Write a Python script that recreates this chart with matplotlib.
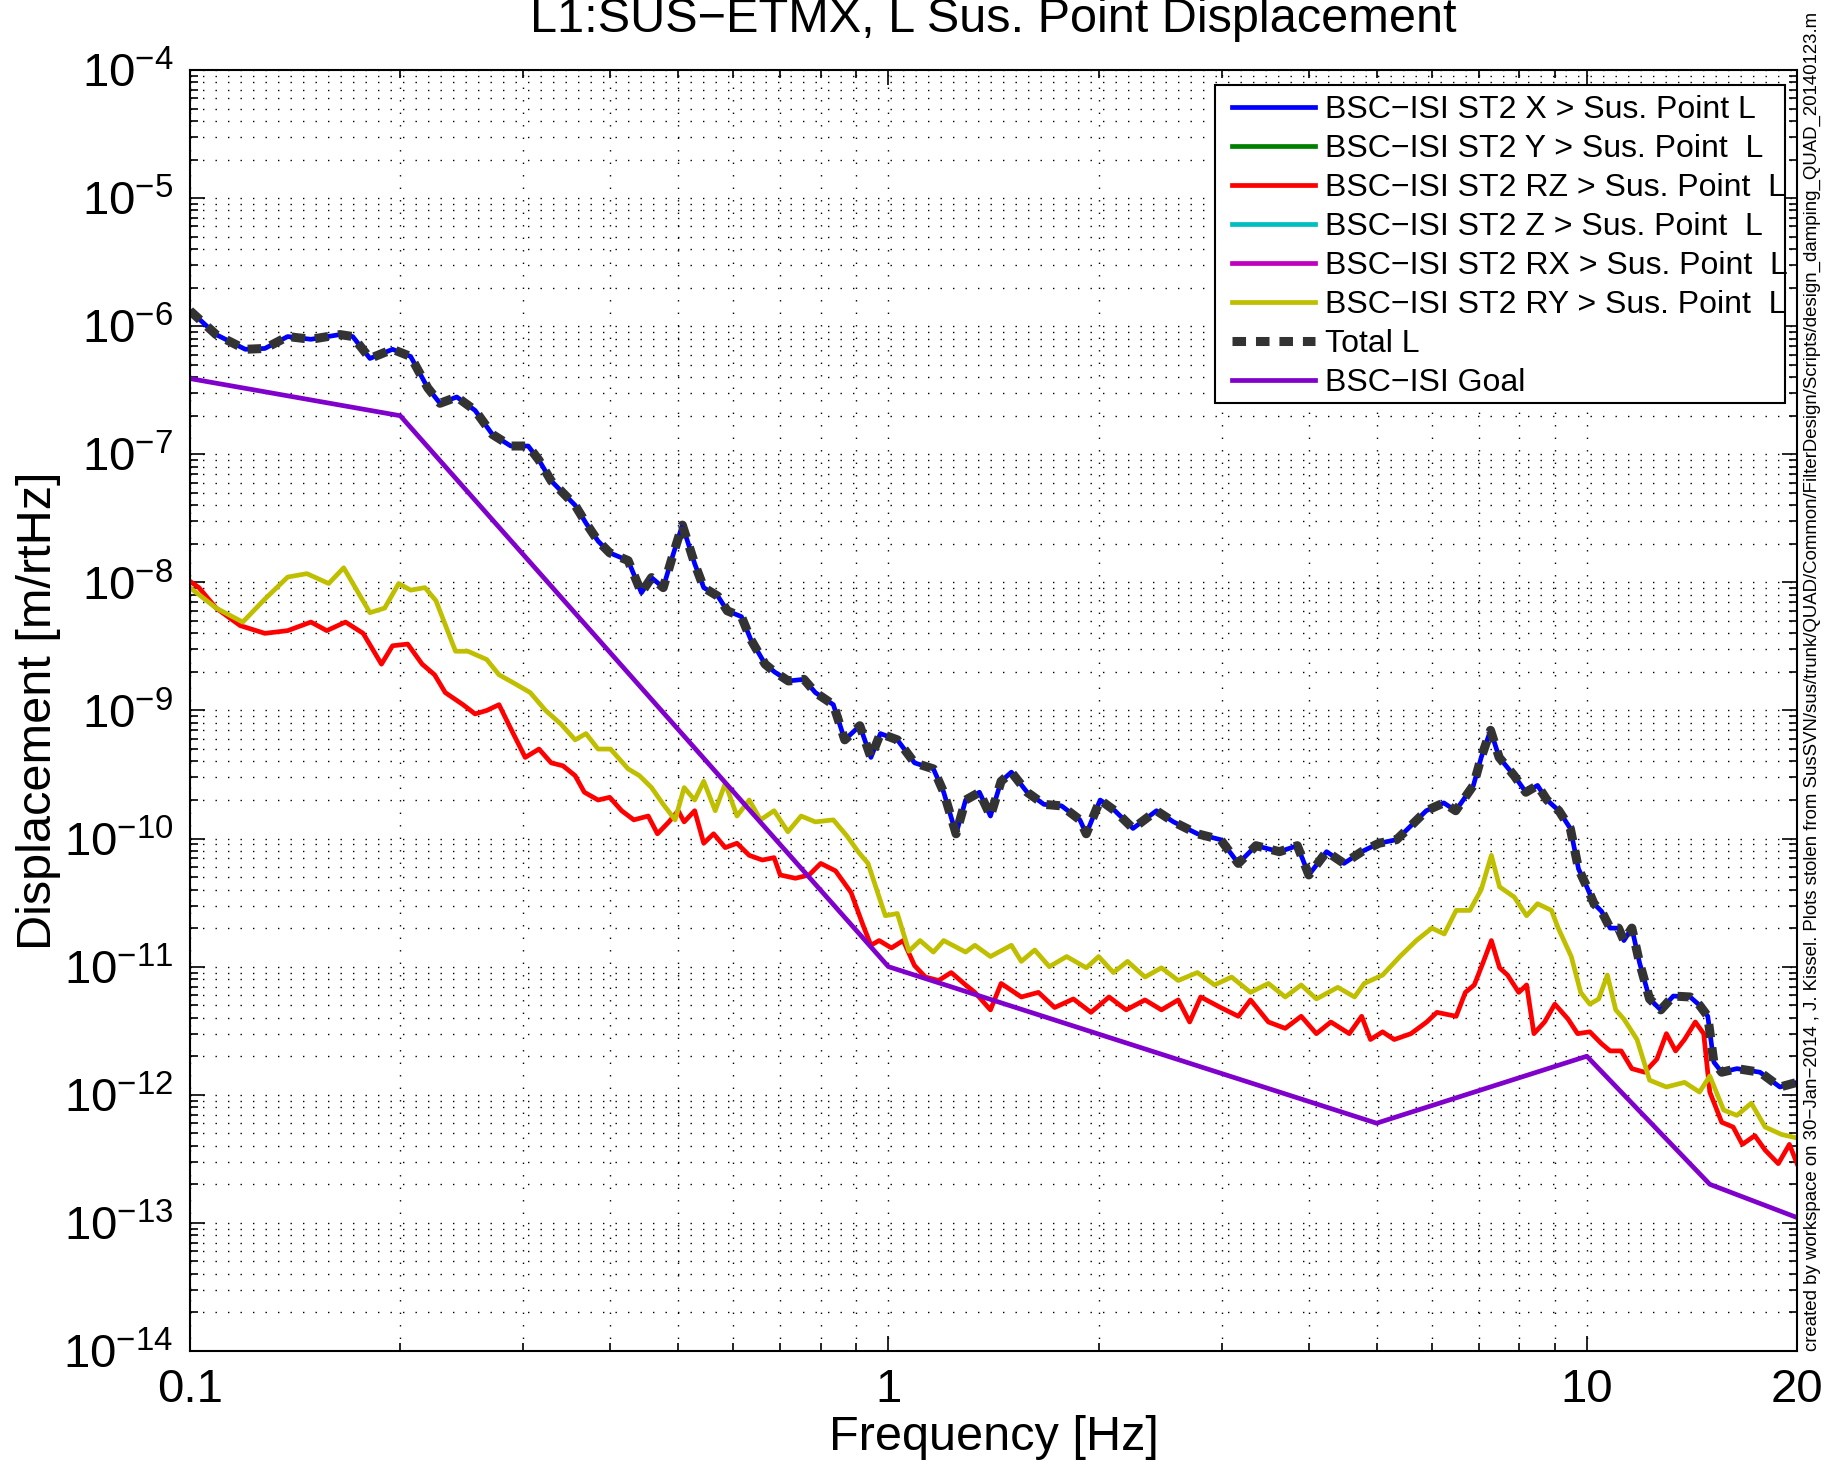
import numpy as np
import matplotlib.pyplot as plt
from matplotlib.patches import Rectangle
from matplotlib.ticker import LogLocator, NullFormatter

plt.rcParams['font.family'] = ['Liberation Sans', 'DejaVu Sans']
plt.rcParams['mathtext.fontset'] = 'custom'
plt.rcParams['mathtext.rm'] = 'Liberation Sans'

# ST2 X -> sus point L (Total L sits on top of it)
x_freq = [0.1, 0.109, 0.120, 0.128, 0.138, 0.149, 0.164, 0.171, 0.181, 0.195,
          0.207, 0.219, 0.228, 0.241, 0.256, 0.271, 0.288, 0.305, 0.316, 0.329,
          0.356, 0.369, 0.384, 0.399, 0.424, 0.443, 0.458, 0.476, 0.490, 0.507,
          0.528, 0.544, 0.570, 0.588, 0.616, 0.635, 0.666, 0.687, 0.719, 0.757,
          0.786, 0.834, 0.866, 0.910, 0.944, 0.974, 1.03, 1.09, 1.16, 1.20,
          1.25, 1.29, 1.35, 1.40, 1.45, 1.50, 1.58, 1.67, 1.77, 1.88,
          1.92, 2.01, 2.11, 2.24, 2.42, 2.56, 2.77, 2.99, 3.17, 3.36,
          3.63, 3.85, 4.00, 4.24, 4.49, 4.76, 5.04, 5.34, 5.55, 5.89,
          6.24, 6.49, 6.88, 7.06, 7.28, 7.49, 7.87, 8.18, 8.50, 8.77,
          9.12, 9.47, 9.73, 10.0, 10.24, 10.5, 10.8, 11.1, 11.3, 11.6,
          11.9, 12.3, 12.76, 13.3, 14.06, 14.5, 14.9, 15.2, 15.6, 16.4,
          17.7, 18.9, 20.0]
x_disp = [1.32e-6, 8.6e-7, 6.6e-7, 6.7e-7, 8.3e-7, 7.9e-7, 8.6e-7, 8.3e-7, 5.6e-7, 6.6e-7,
          5.8e-7, 3.3e-7, 2.5e-7, 2.8e-7, 2.2e-7, 1.43e-7, 1.16e-7, 1.16e-7, 9.0e-8, 6.2e-8,
          4.0e-8, 2.9e-8, 2.1e-8, 1.7e-8, 1.48e-8, 8.3e-9, 1.09e-8, 9.1e-9, 1.55e-8, 2.8e-8,
          1.4e-8, 9.1e-9, 7.8e-9, 6.0e-9, 5.4e-9, 3.6e-9, 2.3e-9, 2.0e-9, 1.7e-9, 1.75e-9,
          1.38e-9, 1.11e-9, 5.9e-10, 7.6e-10, 4.3e-10, 6.6e-10, 5.9e-10, 3.9e-10, 3.5e-10, 2.3e-10,
          1.09e-10, 2.0e-10, 2.3e-10, 1.5e-10, 2.8e-10, 3.3e-10, 2.3e-10, 1.85e-10, 1.8e-10, 1.4e-10,
          1.09e-10, 2.0e-10, 1.65e-10, 1.2e-10, 1.65e-10, 1.35e-10, 1.09e-10, 9.8e-11, 6.4e-11, 8.8e-11,
          7.9e-11, 8.8e-11, 5.2e-11, 7.9e-11, 6.4e-11, 7.9e-11, 9.2e-11, 9.8e-11, 1.2e-10, 1.65e-10,
          1.9e-10, 1.65e-10, 2.6e-10, 4.3e-10, 7.0e-10, 4.3e-10, 3.1e-10, 2.3e-10, 2.6e-10, 2.0e-10,
          1.65e-10, 1.2e-10, 5.8e-11, 4.2e-11, 3.1e-11, 2.7e-11, 2.0e-11, 2.0e-11, 1.6e-11, 2.0e-11,
          1.07e-11, 5.6e-12, 4.6e-12, 5.9e-12, 5.8e-12, 5.0e-12, 4.1e-12, 1.8e-12, 1.5e-12, 1.6e-12,
          1.5e-12, 1.15e-12, 1.25e-12]

# ST2 Y, Z, RX contributions do not show up in the plotted range
y_freq, y_disp = [], []
z_freq, z_disp = [], []
rx_freq, rx_disp = [], []

# ST2 RZ -> sus point L
rz_freq = [0.1, 0.103, 0.109, 0.118, 0.128, 0.138, 0.149, 0.157, 0.167, 0.177,
           0.188, 0.195, 0.205, 0.215, 0.224, 0.232, 0.246, 0.256, 0.266, 0.277,
           0.288, 0.302, 0.316, 0.329, 0.342, 0.356, 0.367, 0.384, 0.399, 0.415,
           0.432, 0.453, 0.467, 0.485, 0.50, 0.51, 0.528, 0.544, 0.562, 0.584,
           0.607, 0.632, 0.66, 0.686, 0.70, 0.736, 0.77, 0.80, 0.84, 0.884,
           0.92, 0.944, 0.97, 1.01, 1.05, 1.09, 1.13, 1.18, 1.23, 1.29,
           1.33, 1.40, 1.45, 1.55, 1.64, 1.73, 1.84, 1.95, 2.07, 2.19,
           2.33, 2.46, 2.60, 2.70, 2.80, 2.99, 3.17, 3.30, 3.50, 3.70,
           3.90, 4.10, 4.30, 4.57, 4.76, 4.90, 5.10, 5.30, 5.60, 5.90,
           6.10, 6.50, 6.70, 6.90, 7.10, 7.30, 7.50, 7.70, 7.99, 8.20,
           8.40, 8.70, 9.00, 9.40, 9.70, 10.1, 10.5, 10.8, 11.2, 11.6,
           12.1, 12.6, 13.0, 13.4, 13.8, 14.3, 14.7, 15.0, 15.6, 16.2,
           16.7, 17.4, 18.0, 18.8, 19.5, 20.0]
rz_disp = [1.02e-8, 9.1e-9, 6.3e-9, 4.6e-9, 4.0e-9, 4.2e-9, 4.9e-9, 4.2e-9, 4.9e-9, 4.0e-9,
           2.3e-9, 3.2e-9, 3.3e-9, 2.3e-9, 1.9e-9, 1.38e-9, 1.11e-9, 9.4e-10, 1.0e-9, 1.11e-9,
           7.2e-10, 4.3e-10, 5.0e-10, 3.9e-10, 3.7e-10, 3.1e-10, 2.3e-10, 2.0e-10, 2.1e-10, 1.65e-10,
           1.4e-10, 1.5e-10, 1.09e-10, 1.35e-10, 1.65e-10, 1.35e-10, 1.65e-10, 9.2e-11, 1.09e-10, 8.5e-11,
           9.2e-11, 7.4e-11, 6.8e-11, 7.1e-11, 5.2e-11, 4.9e-11, 5.2e-11, 6.4e-11, 5.6e-11, 3.8e-11,
           2.1e-11, 1.47e-11, 1.6e-11, 1.4e-11, 1.6e-11, 1.02e-11, 8.3e-12, 7.8e-12, 9.0e-12, 7.2e-12,
           6.3e-12, 4.6e-12, 7.4e-12, 5.8e-12, 6.3e-12, 4.8e-12, 5.6e-12, 4.4e-12, 5.8e-12, 4.6e-12,
           5.5e-12, 4.6e-12, 5.5e-12, 3.7e-12, 5.8e-12, 4.8e-12, 4.1e-12, 5.5e-12, 3.7e-12, 3.3e-12,
           4.1e-12, 3.0e-12, 3.7e-12, 3.0e-12, 4.1e-12, 2.7e-12, 3.1e-12, 2.7e-12, 3.0e-12, 3.7e-12,
           4.4e-12, 4.1e-12, 6.3e-12, 7.2e-12, 1.07e-11, 1.6e-11, 9.8e-12, 8.6e-12, 6.3e-12, 7.2e-12,
           3.0e-12, 3.7e-12, 5.1e-12, 3.9e-12, 3.0e-12, 3.1e-12, 2.5e-12, 2.2e-12, 2.2e-12, 1.6e-12,
           1.5e-12, 1.9e-12, 3.0e-12, 2.2e-12, 2.7e-12, 3.7e-12, 3.0e-12, 1.05e-12, 6.1e-13, 5.6e-13,
           4.1e-13, 4.8e-13, 3.7e-13, 2.9e-13, 4.1e-13, 2.9e-13]

# ST2 RY -> sus point L
ry_freq = [0.1, 0.109, 0.119, 0.128, 0.138, 0.147, 0.158, 0.166, 0.181, 0.190,
           0.199, 0.207, 0.217, 0.225, 0.240, 0.250, 0.266, 0.277, 0.293, 0.307,
           0.323, 0.340, 0.356, 0.369, 0.384, 0.40, 0.424, 0.44, 0.458, 0.476,
           0.495, 0.51, 0.528, 0.544, 0.565, 0.584, 0.607, 0.632, 0.656, 0.686,
           0.718, 0.75, 0.786, 0.834, 0.872, 0.905, 0.935, 0.965, 0.99, 1.03,
           1.07, 1.11, 1.16, 1.20, 1.29, 1.33, 1.40, 1.50, 1.55, 1.62,
           1.70, 1.80, 1.92, 2.00, 2.10, 2.20, 2.33, 2.46, 2.60, 2.77,
           2.93, 3.10, 3.30, 3.50, 3.70, 3.90, 4.10, 4.40, 4.65, 4.80,
           5.10, 5.40, 5.70, 6.00, 6.25, 6.50, 6.80, 7.06, 7.30, 7.50,
           7.87, 8.20, 8.50, 8.90, 9.10, 9.50, 9.80, 10.1, 10.4, 10.7,
           11.0, 11.3, 11.8, 12.3, 13.0, 13.8, 14.5, 15.0, 15.7, 16.4,
           17.2, 18.0, 19.0, 20.0]
ry_disp = [9.1e-9, 6.3e-9, 4.9e-9, 7.4e-9, 1.1e-8, 1.17e-8, 9.8e-9, 1.3e-8, 5.8e-9, 6.3e-9,
           9.8e-9, 8.7e-9, 9.1e-9, 7.2e-9, 2.9e-9, 2.9e-9, 2.5e-9, 1.9e-9, 1.6e-9, 1.38e-9,
           1.0e-9, 7.8e-10, 5.9e-10, 6.6e-10, 5.0e-10, 5.0e-10, 3.5e-10, 3.1e-10, 2.5e-10, 1.85e-10,
           1.4e-10, 2.5e-10, 2.0e-10, 2.8e-10, 1.65e-10, 2.7e-10, 1.5e-10, 2.0e-10, 1.4e-10, 1.65e-10,
           1.13e-10, 1.5e-10, 1.35e-10, 1.4e-10, 1.05e-10, 7.9e-11, 6.4e-11, 3.8e-11, 2.5e-11, 2.6e-11,
           1.32e-11, 1.6e-11, 1.3e-11, 1.6e-11, 1.3e-11, 1.47e-11, 1.2e-11, 1.47e-11, 1.1e-11, 1.35e-11,
           1.0e-11, 1.2e-11, 9.8e-12, 1.2e-11, 9.0e-12, 1.1e-11, 8.3e-12, 9.8e-12, 7.8e-12, 9.0e-12,
           7.2e-12, 8.3e-12, 6.3e-12, 7.4e-12, 5.8e-12, 7.2e-12, 5.6e-12, 6.9e-12, 5.8e-12, 7.4e-12,
           8.6e-12, 1.2e-11, 1.6e-11, 2.0e-11, 1.8e-11, 2.75e-11, 2.75e-11, 4.0e-11, 7.4e-11, 4.2e-11,
           3.5e-11, 2.5e-11, 3.1e-11, 2.75e-11, 2.0e-11, 1.2e-11, 6.3e-12, 5.1e-12, 5.6e-12, 8.6e-12,
           4.6e-12, 3.9e-12, 2.7e-12, 1.3e-12, 1.15e-12, 1.25e-12, 1.05e-12, 1.4e-12, 7.6e-13, 6.9e-13,
           8.6e-13, 5.6e-13, 4.9e-13, 4.6e-13]

# BSC-ISI goal
goal_freq = [0.1, 0.2, 1.0, 5.0, 10.0, 15.0, 20.0]
goal_disp = [3.9e-7, 2.0e-7, 1.0e-11, 6.0e-13, 2.0e-12, 2.0e-13, 1.1e-13]

labels = ['BSC\u2212ISI ST2 X > Sus. Point L',
          'BSC\u2212ISI ST2 Y > Sus. Point  L',
          'BSC\u2212ISI ST2 RZ > Sus. Point  L',
          'BSC\u2212ISI ST2 Z > Sus. Point  L',
          'BSC\u2212ISI ST2 RX > Sus. Point  L',
          'BSC\u2212ISI ST2 RY > Sus. Point  L',
          'Total L',
          'BSC\u2212ISI Goal']

xticks = [0.1, 1, 10, 20]
xtick_labels = ['0.1', '1', '10', '20']
yexp = list(range(-14, -3))

side_note = ('created by workspace on 30\u2212Jan\u22122014 , J. Kissel. Plots stolen from '
             'SusSVN/sus/trunk/QUAD/Common/FilterDesign/Scripts/design_damping_QUAD_20140123.m')

fig = plt.figure(figsize=(18.39, 14.64), dpi=100)
ax = fig.add_axes([0.1033, 0.0772, 0.8739, 0.875])

lw = 3.4
h = []
h += ax.loglog(x_freq, x_disp, color=(0, 0, 1), lw=lw, label=labels[0])
h += ax.loglog(y_freq, y_disp, color=(0, 0.5, 0), lw=lw, label=labels[1])
h += ax.loglog(rz_freq, rz_disp, color=(1, 0, 0), lw=lw, label=labels[2])
h += ax.loglog(z_freq, z_disp, color=(0, 0.75, 0.75), lw=lw, label=labels[3])
h += ax.loglog(rx_freq, rx_disp, color=(0.75, 0, 0.75), lw=lw, label=labels[4])
h += ax.loglog(ry_freq, ry_disp, color=(0.75, 0.75, 0), lw=lw, label=labels[5])
h += ax.loglog(x_freq, x_disp, color='#333333', lw=6.5, ls=(0, (1.5, 1.1)),
               dash_capstyle='butt', label=labels[6])
h += ax.loglog(goal_freq, goal_disp, color=(0.5, 0, 0.8), lw=lw, label=labels[7])

ax.set_xlim(0.1, 20)
ax.set_ylim(1e-14, 1e-4)
ax.set_xticks(xticks)
ax.set_xticklabels(xtick_labels)
ax.set_yticks([10.0 ** e for e in yexp])
ax.set_yticklabels([r'$\mathregular{10^{%d}}$' % e for e in yexp])
ax.xaxis.set_minor_locator(LogLocator(base=10, subs=np.arange(2, 10), numticks=100))
ax.yaxis.set_minor_locator(LogLocator(base=10, subs=np.arange(2, 10), numticks=100))
ax.xaxis.set_minor_formatter(NullFormatter())
ax.yaxis.set_minor_formatter(NullFormatter())

ax.grid(True, which='both', color='k', lw=1.0, ls=(0, (1, 8)))
ax.tick_params(which='both', direction='in', top=True, right=True, width=1.2)
ax.tick_params(which='major', length=11, labelsize=34, pad=12)
ax.tick_params(which='minor', length=6)
for s in ax.spines.values():
    s.set_linewidth(1.5)

ax.set_title('L1:SUS\u2212ETMX, L Sus. Point Displacement', fontsize=35, pad=27)
ax.set_xlabel('Frequency [Hz]', fontsize=35)
ax.set_ylabel('Displacement [m/rtHz]', fontsize=35)
ax.xaxis.set_label_coords(0.5, -0.05)
ax.yaxis.set_label_coords(-0.08, 0.5)

frame = Rectangle((0.6607, 0.7247), 0.31, 0.2172, transform=fig.transFigure,
                  facecolor='white', edgecolor='black', lw=1.5, zorder=4, clip_on=False)
ax.add_patch(frame)
leg = ax.legend(handles=h, loc='upper left', bbox_to_anchor=(0.6699, 0.935),
                bbox_transform=fig.transFigure, frameon=False, fontsize=23,
                borderpad=0, borderaxespad=0, handlelength=2.6, handletextpad=0.3,
                labelspacing=0.28)
leg.set_zorder(5)

fig.text(0.9853, 0.0772, side_note, rotation=90, ha='center', va='bottom', fontsize=13.4)

fig.savefig('out.png', dpi=100)
